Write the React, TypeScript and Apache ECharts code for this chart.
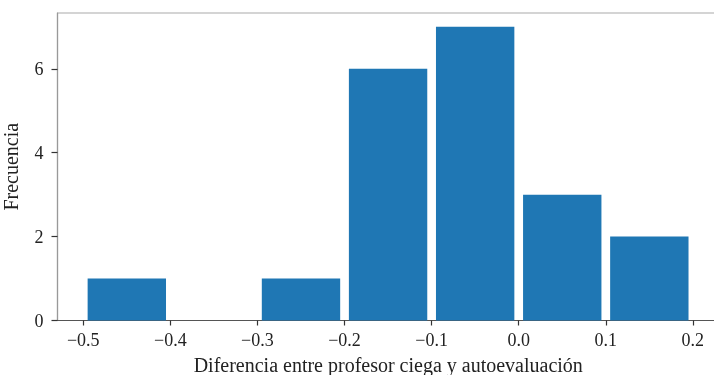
import React, { useEffect, useRef } from "react";
import * as echarts from "echarts";

const binEdges = [-0.5, -0.4, -0.3, -0.2, -0.1, 0.0, 0.1, 0.2];
const counts = [1, 0, 1, 6, 7, 3, 2];
const xTicks = [-0.5, -0.4, -0.3, -0.2, -0.1, 0.0, 0.1, 0.2];
const yTicks = [0, 2, 4, 6];
const xLabel = "Diferencia entre profesor ciega y autoevaluación";
const yLabel = "Frecuencia";

const FONT = "Liberation Serif";

export default function App() {
  const ref = useRef<HTMLDivElement>(null);
  useEffect(() => {
    if (!ref.current) return;
    const chart = echarts.init(ref.current, undefined, { renderer: "svg" });
    const data = counts.map((c, i) => [binEdges[i], binEdges[i + 1], c]);
    const fmt = (v: number) => (v < 0 ? "\u2212" : "") + Math.abs(v).toFixed(1);
    chart.setOption({
      animation: false,
      grid: {
        left: 57.5,
        top: 13,
        bottom: 54.5,
        right: -5,
        containLabel: false,
        outerBoundsMode: "none",
        show: true,
        borderColor: "#aaaaaa",
        borderWidth: 1.2,
        backgroundColor: "transparent",
      },
      xAxis: {
        type: "value",
        min: -0.5296,
        max: 0.23,
        splitLine: { show: false },
        axisLine: { show: true, onZero: false, lineStyle: { color: "#555555", width: 1.2 } },
        axisTick: { show: true, length: 5, customValues: xTicks, lineStyle: { color: "#333333", width: 1.2 } },
        axisLabel: {
          customValues: xTicks,
          formatter: fmt,
          fontFamily: FONT,
          fontSize: 18,
          color: "#222222",
          margin: 10,
        },
        name: xLabel,
        nameLocation: "middle",
        nameGap: 34,
        nameTextStyle: { fontFamily: FONT, fontSize: 20, color: "#222222" },
      },
      yAxis: {
        type: "value",
        min: 0,
        max: 7.33,
        splitLine: { show: false },
        axisLine: { show: true, onZero: false, lineStyle: { color: "#999999", width: 1.2 } },
        axisTick: { show: true, length: 6, customValues: yTicks, lineStyle: { color: "#333333", width: 1.2 } },
        axisLabel: {
          customValues: yTicks,
          fontFamily: FONT,
          fontSize: 18,
          color: "#222222",
          margin: 14,
        },
        name: yLabel,
        nameLocation: "middle",
        nameGap: 37,
        nameTextStyle: { fontFamily: FONT, fontSize: 20, color: "#222222" },
      },
      series: [
        {
          type: "custom",
          data,
          encode: { x: [0, 1], y: 2 },
          renderItem: (params: any, api: any) => {
            const x0 = api.value(0);
            const x1 = api.value(1);
            const c = api.value(2);
            const w = x1 - x0;
            const a = x0 + 0.05 * w;
            const b = x1 - 0.05 * w;
            const p0 = api.coord([a, c]);
            const p1 = api.coord([b, 0]);
            if (c <= 0) return null;
            return {
              type: "rect",
              shape: { x: p0[0], y: p0[1], width: p1[0] - p0[0], height: p1[1] - p0[1] },
              style: { fill: "#1f77b4" },
            };
          },
        },
      ],
    });
    return () => chart.dispose();
  }, []);
  return (
    <div
      ref={ref}
      style={{ position: "fixed", left: 0, top: 0, width: 714, height: 375 }}
    />
  );
}
